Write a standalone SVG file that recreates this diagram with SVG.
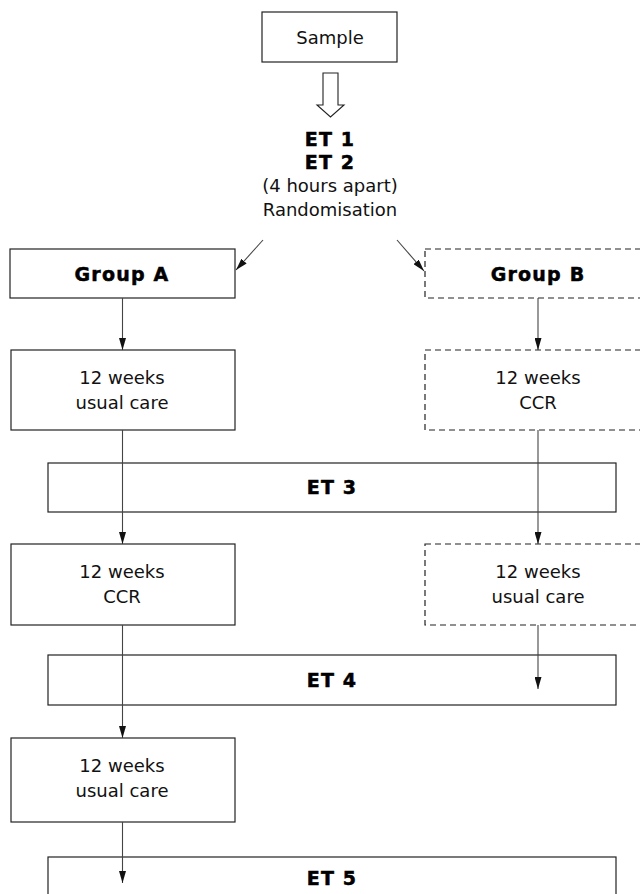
<svg xmlns="http://www.w3.org/2000/svg" width="640" height="894" viewBox="0 0 640 894">
<style>
.box{fill:#fff;stroke:#222;stroke-width:1.2}
.dash{fill:#fff;stroke:#222;stroke-width:1.2;stroke-dasharray:6 4}
.t{font-family:"DejaVu Sans","Liberation Sans",sans-serif;font-size:18px;fill:#111;text-anchor:middle}
.b{font-family:"DejaVu Sans","Liberation Sans",sans-serif;font-size:19px;font-weight:bold;fill:#000;stroke:#000;stroke-width:0.5;text-anchor:middle;letter-spacing:1.2px}
.c{stroke:#444;stroke-width:1.1;fill:none}
</style>
<defs>
<marker id="av" viewBox="0 0 12 7" refX="12" refY="3.5" markerWidth="12" markerHeight="7" markerUnits="userSpaceOnUse" orient="auto">
<path d="M0,0 L12,3.5 L0,7 Z" fill="#111"/>
</marker>
</defs>

<g id="sample">
<rect class="box" x="262" y="12" width="135" height="50"/>
<text class="t" x="330" y="44">Sample</text>
</g>
<g id="et12">
<path d="M323,73 H338 V105 H344 L330.5,117 L317,105 H323 Z" fill="#fff" stroke="#222" stroke-width="1.1"/>
<text class="b" x="330" y="146">ET 1</text>
<text class="b" x="330" y="169">ET 2</text>
<text class="t" x="330" y="192">(4 hours apart)</text>
<text class="t" x="330" y="216">Randomisation</text>
</g>
<g id="groupA">
<rect class="box" x="10" y="249" width="225" height="49"/>
<text class="b" x="122" y="281">Group A</text>
</g>
<g id="groupB">
<rect class="dash" x="425" y="249" width="225" height="49"/>
<text class="b" x="538" y="281">Group B</text>
</g>
<g id="a1">
<rect class="box" x="11" y="350" width="224" height="80"/>
<text class="t" x="122" y="384">12 weeks</text>
<text class="t" x="122" y="409">usual care</text>
</g>
<g id="b1">
<rect class="dash" x="425" y="350" width="225" height="80"/>
<text class="t" x="538" y="384">12 weeks</text>
<text class="t" x="538" y="409">CCR</text>
</g>
<g id="et3">
<rect class="box" x="48" y="463" width="568" height="49"/>
<text class="b" x="332" y="494">ET 3</text>
</g>
<g id="a2">
<rect class="box" x="11" y="544" width="224" height="81"/>
<text class="t" x="122" y="578">12 weeks</text>
<text class="t" x="122" y="603">CCR</text>
</g>
<g id="b2">
<rect class="dash" x="425" y="544" width="225" height="81"/>
<text class="t" x="538" y="578">12 weeks</text>
<text class="t" x="538" y="603">usual care</text>
</g>
<g id="et4">
<rect class="box" x="48" y="655" width="568" height="50"/>
<text class="b" x="332" y="687">ET 4</text>
</g>
<g id="a3">
<rect class="box" x="11" y="738" width="224" height="84"/>
<text class="t" x="122" y="772">12 weeks</text>
<text class="t" x="122" y="797">usual care</text>
</g>
<g id="et5">
<rect class="box" x="48" y="857" width="568" height="60"/>
<text class="b" x="332" y="885">ET 5</text>
</g>

<g id="connectors">
<line class="c" x1="263" y1="240" x2="236" y2="270" marker-end="url(#av)"/>
<line class="c" x1="397" y1="240" x2="424" y2="271" marker-end="url(#av)"/>
<line class="c" x1="122.5" y1="298" x2="122.5" y2="350" marker-end="url(#av)"/>
<line class="c" x1="538" y1="298" x2="538" y2="350" marker-end="url(#av)"/>
<line class="c" x1="122.5" y1="430" x2="122.5" y2="544" marker-end="url(#av)"/>
<line class="c" x1="538" y1="430" x2="538" y2="544" marker-end="url(#av)"/>
<line class="c" x1="122.5" y1="625" x2="122.5" y2="738" marker-end="url(#av)"/>
<line class="c" x1="538" y1="625" x2="538" y2="689" marker-end="url(#av)"/>
<line class="c" x1="122.5" y1="822" x2="122.5" y2="883" marker-end="url(#av)"/>
</g>
</svg>
